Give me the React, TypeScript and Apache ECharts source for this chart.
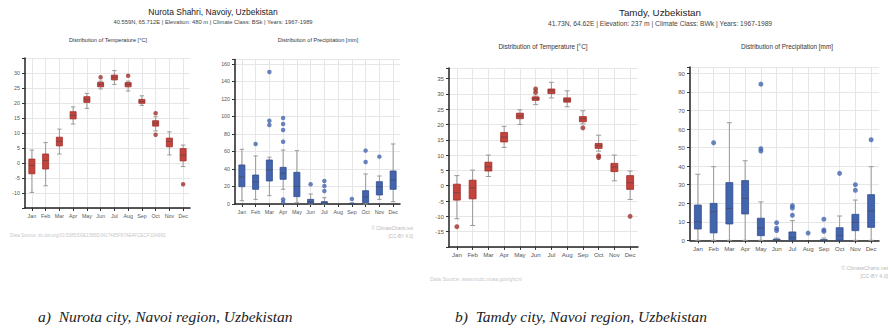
import React, { useEffect, useRef } from "react";
import * as echarts from "echarts";

const months = ["Jan", "Feb", "Mar", "Apr", "May", "Jun", "Jul", "Aug", "Sep", "Oct", "Nov", "Dec"];

// Nurota Shahri – temperature [°C]
const nurotaTempMin = [-9.8, -7.6, 3.0, 13.0, 18.2, 24.7, 26.2, 24.0, 19.2, 10.7, 2.7, -1.2];
const nurotaTempQ1 = [-3.6, -2.0, 5.7, 14.7, 20.2, 25.4, 27.7, 25.4, 19.9, 12.3, 5.4, 0.7];
const nurotaTempMed = [-0.8, 0.8, 7.2, 15.9, 21.1, 26.2, 28.6, 26.2, 20.5, 13.3, 7.2, 2.6];
const nurotaTempQ3 = [1.3, 3.0, 8.6, 17.1, 22.1, 26.9, 29.3, 26.8, 21.2, 14.1, 8.3, 4.8];
const nurotaTempMax = [4.3, 6.8, 11.3, 18.7, 23.2, 27.3, 30.8, 27.3, 22.4, 15.4, 10.4, 6.0];
const nurotaTempOutliers = [[5, 28.6], [7, 29.1], [9, 16.6], [9, 9.4], [11, -7.1]];

// Nurota Shahri – precipitation [mm]
const nurotaPrecMin = [3.8, 5.3, 9.5, 16.8, 1.5, 0, 0, 0, 0, 0, 5.3, 2.7];
const nurotaPrecQ1 = [19.8, 16.8, 26.3, 28.2, 8.4, 0.8, 0.4, 0, 0, 1.5, 10.3, 16.8];
const nurotaPrecMed = [31, 25.5, 38.9, 35, 20, 2.7, 1.5, 0, 0, 8, 19.8, 27.4];
const nurotaPrecQ3 = [44.6, 33.1, 50.3, 41.9, 36.2, 5.3, 2.7, 0, 0.5, 15.2, 25.5, 37.7];
const nurotaPrecMax = [62.5, 54.9, 53.5, 61.7, 61, 11.4, 7.2, 0, 1.5, 34.3, 32, 68.6];
const nurotaPrecOutliers = [
  [1, 68.6], [2, 150.9], [2, 95.2], [2, 90.3], [3, 98.3], [3, 91.4], [3, 84.6], [3, 71.2],
  [3, 5.3], [3, 2.2], [5, 22.5], [6, 26.3], [6, 20.6], [6, 14.9], [8, 5.7], [9, 61], [9, 48], [10, 54.1],
];

// Tamdy – temperature [°C]
const tamdyTempMin = [-10.8, -13.0, 3.0, 12.5, 20.0, 26.5, 28.7, 25.8, 20.2, 11.3, 1.6, -4.5];
const tamdyTempQ1 = [-4.7, -4.3, 4.8, 14.3, 21.9, 27.9, 30.1, 27.3, 20.9, 12.2, 4.6, -1.2];
const tamdyTempMed = [-2.3, -0.7, 6.2, 15.9, 22.8, 28.4, 31.0, 28.0, 21.9, 13.1, 6.1, 1.0];
const tamdyTempQ3 = [0.5, 1.8, 7.7, 17.4, 23.7, 29.0, 31.6, 28.7, 22.6, 13.8, 7.3, 3.3];
const tamdyTempMax = [3.3, 5.1, 10.0, 19.4, 24.8, 29.3, 33.8, 31.0, 24.5, 16.5, 10.0, 4.8];
const tamdyTempOutliers = [[0, -13.4], [5, 31.6], [5, 30.5], [8, 18.9], [9, 9.8], [9, 9.2], [11, -10]];

// Tamdy – precipitation [mm]
const tamdyPrecMin = [0, 0, 0, 0, 0, 0, 0, 0, 0, 0, 0, 0];
const tamdyPrecQ1 = [6.1, 4, 8.8, 14.2, 2.5, 0, 0, 0, 0, 0, 5.2, 7];
const tamdyPrecMed = [10, 15.4, 17.2, 22.6, 6.5, 0, 1.5, 0, 0, 2.5, 9.7, 15.8];
const tamdyPrecQ3 = [19, 19.9, 31.1, 32.2, 11.9, 0.6, 4.5, 0, 0.3, 6.8, 14, 24.6];
const tamdyPrecMax = [35.6, 39.7, 63.4, 42.9, 20.7, 1.2, 10.6, 0, 1.2, 13.1, 21.7, 39.7];
const tamdyPrecOutliers = [
  [1, 52.6], [4, 84.2], [4, 49.4], [4, 48.1], [5, 9.5], [5, 6.5], [5, 5.3], [6, 18.7], [6, 17.4],
  [6, 13.5], [7, 3.9], [8, 11.4], [8, 5.6], [8, 4.8], [9, 36.1], [10, 30], [10, 27], [11, 54.2],
];

const RED = "#c4433c";
const RED_DARK = "#9e2f2a";
const BLUE = "#4464ae";
const BLUE_DARK = "#2f4c8c";
const FONT = "'Liberation Sans', Arial, sans-serif";
const SERIF = "'Liberation Serif', 'Times New Roman', serif";

function boxData(mn: number[], q1: number[], md: number[], q3: number[], mx: number[]) {
  return months.map((_, i) => [i, mn[i], q1[i], md[i], q3[i], mx[i]]);
}

function boxSeries(idx: number, data: number[][], fill: string, stroke: string) {
  return {
    type: "custom",
    xAxisIndex: idx,
    yAxisIndex: idx,
    data,
    encode: { x: 0, y: [1, 2, 3, 4, 5] },
    renderItem: (_params: any, api: any) => {
      const i = api.value(0);
      const lo = api.coord([i, api.value(1)]);
      const q1 = api.coord([i, api.value(2)]);
      const md = api.coord([i, api.value(3)]);
      const q3 = api.coord([i, api.value(4)]);
      const hi = api.coord([i, api.value(5)]);
      const band = api.size([1, 0])[0];
      const bw = band * 0.44;
      const cw = band * 0.32;
      const x = lo[0];
      const wStyle = { stroke: "#9a9a9a", lineWidth: 1 };
      const h = q1[1] - q3[1];
      const children: any[] = [];
      if (hi[1] < q3[1]) {
        children.push({ type: "line", shape: { x1: x, y1: hi[1], x2: x, y2: q3[1] }, style: wStyle });
        children.push({ type: "line", shape: { x1: x - cw / 2, y1: hi[1], x2: x + cw / 2, y2: hi[1] }, style: wStyle });
      }
      if (lo[1] > q1[1]) {
        children.push({ type: "line", shape: { x1: x, y1: q1[1], x2: x, y2: lo[1] }, style: wStyle });
        children.push({ type: "line", shape: { x1: x - cw / 2, y1: lo[1], x2: x + cw / 2, y2: lo[1] }, style: wStyle });
      }
      if (h > 0.3) {
        children.push({
          type: "rect",
          shape: { x: x - bw / 2, y: q3[1], width: bw, height: h },
          style: { fill, stroke, lineWidth: 0.8 },
        });
        children.push({
          type: "line",
          shape: { x1: x - bw / 2, y1: md[1], x2: x + bw / 2, y2: md[1] },
          style: { stroke: "rgba(70,70,70,0.55)", lineWidth: 1 },
        });
      }
      return { type: "group", children };
    },
    z: 3,
  };
}

function outlierSeries(idx: number, data: number[][], color: string, size: number) {
  return {
    type: "scatter",
    xAxisIndex: idx,
    yAxisIndex: idx,
    data,
    symbol: "circle",
    symbolSize: size,
    itemStyle: { color },
    z: 4,
  };
}

function xAxisCfg(gridIndex: number, fontSize: number) {
  return {
    type: "category",
    gridIndex,
    data: months,
    boundaryGap: true,
    axisLine: { show: true, onZero: false, lineStyle: { color: "#222", width: 1.5 } },
    axisTick: { show: true, alignWithLabel: true, length: 3, lineStyle: { color: "#333", width: 1 } },
    axisLabel: { interval: 0, fontSize, color: "#555", fontFamily: FONT, margin: 5 },
    splitLine: { show: true, interval: 0, alignWithLabel: true, lineStyle: { color: "#e6e6e6", width: 1 } },
  };
}

function yAxisCfg(gridIndex: number, min: number, max: number, interval: number, hide: number[], fontSize: number) {
  return {
    type: "value",
    gridIndex,
    min,
    max,
    interval,
    axisLine: { show: true, lineStyle: { color: "#222", width: 1.5 } },
    axisTick: { show: true, length: 3, lineStyle: { color: "#333", width: 1 } },
    axisLabel: {
      fontSize,
      color: "#555",
      fontFamily: FONT,
      margin: 5,
      formatter: (v: number) => {
        const r = v / interval;
        if (Math.abs(r - Math.round(r)) > 1e-6) return "";
        if (hide.includes(v)) return "";
        return String(v);
      },
    },
    splitLine: { show: true, lineStyle: { color: "#e6e6e6", width: 1 } },
  };
}

function txt(x: number, y: number, text: string, fontSize: number, fill: string, align = "center", extra: any = {}) {
  return {
    type: "text",
    x,
    y,
    silent: true,
    style: { text, fontSize, fontFamily: FONT, fill, align, verticalAlign: "middle", ...extra },
  };
}

export default function App() {
  const ref = useRef<HTMLDivElement>(null);
  useEffect(() => {
    if (!ref.current) return;
    const chart = echarts.init(ref.current, undefined, { renderer: "svg" });
    chart.setOption({
      animation: false,
      backgroundColor: "#ffffff",
      grid: [
        { left: 25, top: 58, width: 165, height: 150 },
        { left: 235, top: 59.6, width: 165, height: 144.4 },
        { left: 449, top: 67.9, width: 189, height: 179 },
        { left: 690, top: 66.9, width: 189, height: 173.4 },
      ],
      xAxis: [xAxisCfg(0, 5.3), xAxisCfg(1, 5.3), xAxisCfg(2, 6.1), xAxisCfg(3, 6.1)],
      yAxis: [
        yAxisCfg(0, -15, 35, 5, [-15, 35], 5.3),
        yAxisCfg(1, 0, 165, 20, [], 5.3),
        yAxisCfg(2, -20, 38.5, 5, [-20], 6.1),
        yAxisCfg(3, 0, 93.5, 10, [], 6.1),
      ],
      series: [
        boxSeries(0, boxData(nurotaTempMin, nurotaTempQ1, nurotaTempMed, nurotaTempQ3, nurotaTempMax), RED, RED_DARK),
        outlierSeries(0, nurotaTempOutliers, RED_DARK, 4.5),
        boxSeries(1, boxData(nurotaPrecMin, nurotaPrecQ1, nurotaPrecMed, nurotaPrecQ3, nurotaPrecMax), BLUE, BLUE_DARK),
        outlierSeries(1, nurotaPrecOutliers, BLUE, 4.5),
        boxSeries(2, boxData(tamdyTempMin, tamdyTempQ1, tamdyTempMed, tamdyTempQ3, tamdyTempMax), RED, RED_DARK),
        outlierSeries(2, tamdyTempOutliers, RED_DARK, 5),
        boxSeries(3, boxData(tamdyPrecMin, tamdyPrecQ1, tamdyPrecMed, tamdyPrecQ3, tamdyPrecMax), BLUE, BLUE_DARK),
        outlierSeries(3, tamdyPrecOutliers, BLUE, 5),
      ],
      graphic: [
        txt(213, 12, "Nurota Shahri, Navoiy, Uzbekistan", 8.5, "#222"),
        txt(213, 22, "40.559N, 65.712E | Elevation: 480 m | Climate Class: BSk | Years: 1967-1989", 5.8, "#444"),
        txt(108, 40, "Distribution of Temperature [°C]", 5.6, "#333"),
        txt(318, 40, "Distribution of Precipitation [mm]", 5.6, "#333"),
        txt(10, 235, "Data Source: dx.doi.org/10.5285/D0E1585D3417485F87AE4FCECF10A992", 4.6, "#c8c8c8", "left"),
        txt(413, 228, "© ClimateCharts.net", 4.6, "#b8b8b8", "right"),
        txt(413, 236, "[CC-BY 4.0]", 4.6, "#b8b8b8", "right"),
        txt(660, 12, "Tamdy, Uzbekistan", 9.8, "#222"),
        txt(660, 23, "41.73N, 64.62E | Elevation: 237 m | Climate Class: BWk | Years: 1967-1989", 6.7, "#444"),
        txt(543, 46, "Distribution of Temperature [°C]", 6.4, "#333"),
        txt(787, 46, "Distribution of Precipitation [mm]", 6.4, "#333"),
        txt(430, 279, "Data Source: www.ncdc.noaa.gov/ghcn/", 5.2, "#c8c8c8", "left"),
        txt(888, 268, "© ClimateCharts.net", 5.2, "#b8b8b8", "right"),
        txt(888, 276, "[CC-BY 4.0]", 5.2, "#b8b8b8", "right"),
        txt(38, 316, "a)  Nurota city, Navoi region, Uzbekistan", 15.5, "#222", "left", {
          fontFamily: SERIF,
          fontStyle: "italic",
        }),
        txt(455, 316, "b)  Tamdy city, Navoi region, Uzbekistan", 15.5, "#222", "left", {
          fontFamily: SERIF,
          fontStyle: "italic",
        }),
      ],
    });
    return () => chart.dispose();
  }, []);
  return <div ref={ref} style={{ position: "fixed", left: 0, top: 0, width: 889, height: 325 }} />;
}
